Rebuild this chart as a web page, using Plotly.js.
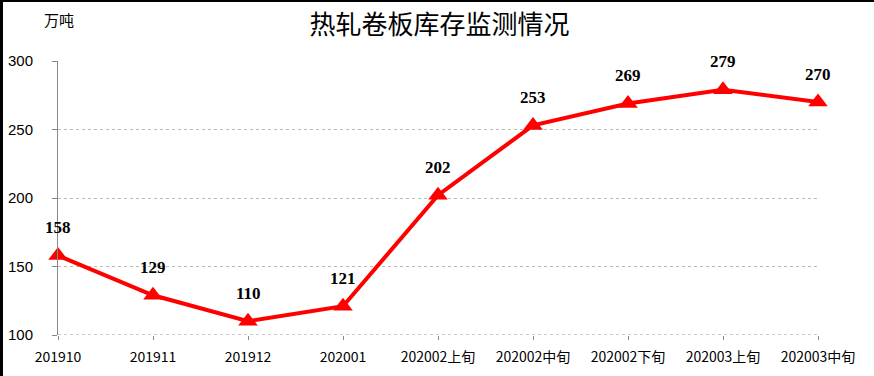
<!DOCTYPE html>
<html><head><meta charset="utf-8">
<script src="https://cdn.plot.ly/plotly-3.0.1.min.js"></script>
<style>
html,body{margin:0;padding:0;background:#fff;}
#wrap{position:relative;width:874px;height:376px;overflow:hidden;}
#chart{width:874px;height:376px;}
#bt{position:absolute;left:0;top:0;width:874px;height:2px;background:#000;}
#bl{position:absolute;left:0;top:0;width:3px;height:376px;background:#000;}
</style></head>
<body><div id="wrap"><div id="chart"></div><div id="bt"></div><div id="bl"></div></div>
<script>
const categories = ["201910","201911","201912","202001","202002上旬","202002中旬","202002下旬","202003上旬","202003中旬"];
const values = [158,129,110,121,202,253,269,279,270];
const titleText = "热轧卷板库存监测情况";
const unitText = "万吨";

const cjk = '"Noto Sans CJK SC", sans-serif';
const trace = {
  x: categories, y: values, type: 'scatter', mode: 'lines+markers',
  line: {color: '#ff0000', width: 4},
  marker: {symbol: 'triangle-up', size: 17, color: '#ff0000'},
  cliponaxis: false, hoverinfo: 'skip'
};
const annotations = categories.map((c, i) => ({
  x: i, y: values[i], xref: 'x', yref: 'y', text: String(values[i]),
  showarrow: false, yshift: 28,
  font: {family: '"Liberation Serif", "Times New Roman", serif', size: 17, color: '#000', weight: 'bold'}
}));
annotations.push({
  xref: 'paper', yref: 'paper', x: 0.001, y: 1.15, xanchor: 'center', yanchor: 'middle',
  text: unitText, showarrow: false, font: {family: cjk, size: 15, color: '#000'}
});
const layout = {
  width: 874, height: 376,
  margin: {l: 58, r: 56, t: 61, b: 41},
  paper_bgcolor: '#fff', plot_bgcolor: '#fff',
  showlegend: false,
  title: {text: titleText, x: 0.503, xanchor: 'center', xref: 'container', y: 0.934, yref: 'container', yanchor: 'middle',
    font: {family: cjk, size: 26, color: '#000'}},
  xaxis: {
    type: 'category', range: [0, 8], showgrid: false, zeroline: false,
    showline: false, ticks: 'outside', ticklen: 4, tickcolor: '#888', tickwidth: 1,
    ticklabelstandoff: 5,
    tickfont: {family: cjk, size: 14, color: '#000'}, fixedrange: true
  },
  yaxis: {
    range: [100, 300], tickvals: [100,150,200,250,300], showgrid: true,
    gridcolor: '#bbb', griddash: 'dot', gridwidth: 1, zeroline: false,
    showline: true, linecolor: '#888', linewidth: 1,
    ticks: 'outside', ticklen: 5, tickcolor: '#888', ticklabelstandoff: 16,
    tickfont: {family: 'Liberation Sans, Arial, sans-serif', size: 15, color: '#000'}, fixedrange: true
  },
  shapes: [{type: 'line', xref: 'paper', yref: 'y', x0: 0, x1: 1, y0: 100, y1: 100,
    line: {color: '#999', width: 1, dash: 'dot'}, layer: 'below'}],
  annotations: annotations
};
Plotly.newPlot('chart', [trace], layout, {displayModeBar: false, staticPlot: true});
</script></body></html>
